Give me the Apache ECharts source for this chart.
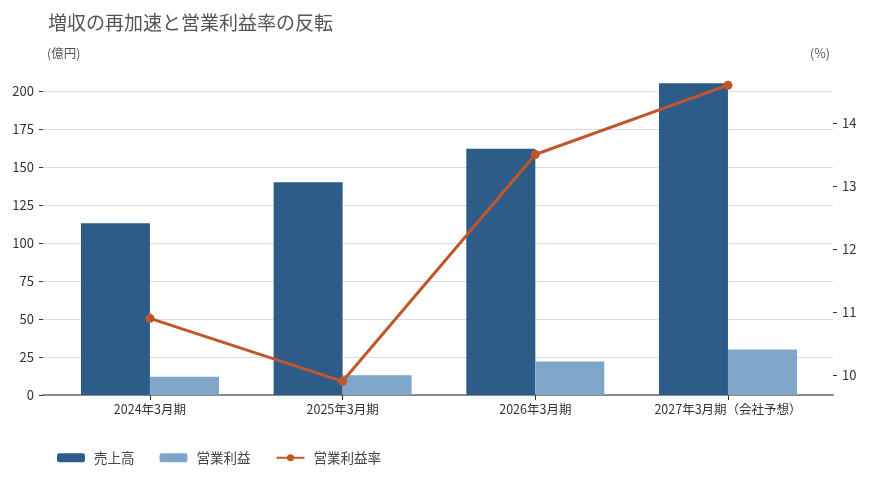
<!DOCTYPE html>
<html>
<head>
<meta charset="utf-8">
<script src="https://cdn.jsdelivr.net/npm/echarts@6/dist/echarts.min.js"></script>
<style>
  html, body { margin: 0; padding: 0; background: #fff; }
  #main { width: 870px; height: 477px; }
</style>
</head>
<body>
<div id="main"></div>
<script>
// 決算期
const categories = ['2024年3月期', '2025年3月期', '2026年3月期', '2027年3月期（会社予想）'];
// 売上高・営業利益（億円）
const sales = [113, 140, 162, 205];
const opProfit = [12, 13, 22, 30];
// 営業利益率（%）
const opMargin = [10.9, 9.9, 13.5, 14.6];
// 目盛り
const leftTicks = [0, 25, 50, 75, 100, 125, 150, 175, 200];
const rightTicks = [10, 11, 12, 13, 14];

(function() {
    let font = 'Noto Sans CJK JP';
    let chart = echarts.init(document.getElementById('main'));

    // x軸は数値軸にして、カテゴリ位置 0..3 に対応させる
    let idx = categories.map(function(c, i) { return i; });
    let pair = function(arr) {
        return arr.map(function(v, i) { return [i, v]; });
    };

    let option = {
        backgroundColor: '#fff',
        animation: false,
        textStyle: {fontFamily: font},
        title: [
            {text: '増収の再加速と営業利益率の反転', left: 43, top: 8,
                textStyle: {fontSize: 19, fontWeight: 'normal', color: '#555', fontFamily: font}},
            {text: '(億円)', left: 42, top: 42,
                textStyle: {fontSize: 12.5, fontWeight: 'normal', color: '#555', fontFamily: font}},
            {text: '(%)', left: 805, top: 42,
                textStyle: {fontSize: 12.5, fontWeight: 'normal', color: '#555', fontFamily: font}}
        ],
        legend: {
            left: 52, top: 446,
            itemWidth: 28, itemHeight: 9, itemGap: 25,
            textStyle: {fontSize: 13.5, color: '#444', fontFamily: font, padding: [0, 0, 0, 4]},
            data: ['売上高', '営業利益', '営業利益率']
        },
        grid: {left: 43, right: 37, top: 68, bottom: 82},
        xAxis: {
            type: 'value',
            min: -0.555, max: 3.545,
            axisLine: {show: true, onZero: false, lineStyle: {color: '#8a8a8a', width: 2}},
            axisTick: {show: true, customValues: idx, length: 5, lineStyle: {color: '#333', width: 1}},
            axisLabel: {
                customValues: idx, color: '#333', fontSize: 12.5, margin: 8,
                formatter: function(v) { return categories[Math.round(v)]; }
            },
            splitLine: {show: false}
        },
        yAxis: [{
            type: 'value',
            min: 0, max: 215.1,
            axisLine: {show: false, onZero: false},
            axisTick: {show: true, customValues: leftTicks, length: 4, lineStyle: {color: '#333'}},
            axisLabel: {customValues: leftTicks, color: '#333', fontSize: 13, margin: 9},
            splitLine: {show: true, lineStyle: {color: '#dcdcdc', width: 1}}
        }, {
            type: 'value',
            min: 9.683, max: 14.873,
            position: 'right',
            axisLine: {show: false, onZero: false},
            axisTick: {show: true, customValues: rightTicks, length: 4, lineStyle: {color: '#333'}},
            axisLabel: {customValues: rightTicks, color: '#333', fontSize: 13, margin: 9},
            splitLine: {show: false}
        }],
        series: [{
            name: '売上高',
            type: 'bar',
            data: pair(sales),
            barWidth: 69,
            barGap: '0%',
            itemStyle: {color: '#2e5c89'}
        }, {
            name: '営業利益',
            type: 'bar',
            data: pair(opProfit),
            barWidth: 69,
            barGap: '0%',
            itemStyle: {color: '#7fa6c8'}
        }, {
            name: '営業利益率',
            type: 'line',
            yAxisIndex: 1,
            data: pair(opMargin),
            symbol: 'circle',
            symbolSize: 9,
            lineStyle: {color: '#c0562b', width: 3},
            itemStyle: {color: '#c0562b'},
            z: 5
        }]
    };
    chart.setOption(option);
})();
</script>
</body>
</html>
